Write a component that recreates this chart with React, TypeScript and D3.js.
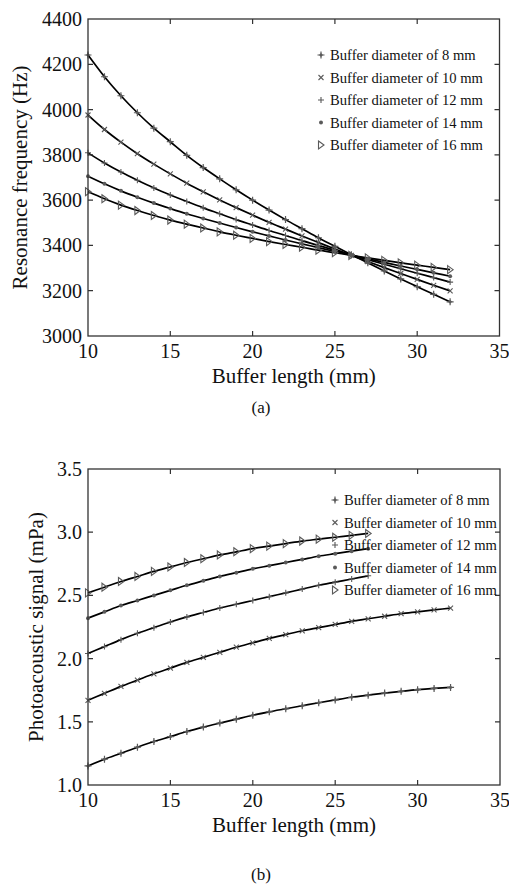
import React from 'react'
import * as d3 from 'd3'

// buffer length (mm), one point per mm
const lengthLong = [10, 11, 12, 13, 14, 15, 16, 17, 18, 19, 20, 21, 22, 23, 24, 25, 26, 27, 28, 29, 30, 31, 32]
const lengthShort = [10, 11, 12, 13, 14, 15, 16, 17, 18, 19, 20, 21, 22, 23, 24, 25, 26, 27]

const legendLabels = [
  'Buffer diameter of 8 mm',
  'Buffer diameter of 10 mm',
  'Buffer diameter of 12 mm',
  'Buffer diameter of 14 mm',
  'Buffer diameter of 16 mm',
]
const markerKinds = ['star', 'cross', 'plus', 'dot', 'tri']

// (a) resonance frequency (Hz)
const freq8 = [4241, 4145, 4061, 3986, 3918, 3858, 3798, 3744, 3694, 3646, 3600, 3556, 3514, 3474, 3434, 3396, 3359, 3323, 3287, 3252, 3218, 3184, 3151]
const freq10 = [3976, 3912, 3856, 3805, 3759, 3716, 3675, 3637, 3601, 3567, 3534, 3502, 3472, 3442, 3413, 3384, 3356, 3329, 3302, 3276, 3250, 3224, 3199]
const freq12 = [3809, 3764, 3724, 3688, 3654, 3623, 3594, 3566, 3540, 3514, 3490, 3466, 3444, 3421, 3400, 3378, 3357, 3337, 3317, 3297, 3277, 3258, 3238]
const freq14 = [3706, 3672, 3641, 3613, 3587, 3563, 3540, 3519, 3499, 3479, 3460, 3442, 3424, 3407, 3390, 3373, 3357, 3341, 3325, 3309, 3294, 3279, 3264]
const freq16 = [3637, 3606, 3578, 3554, 3532, 3512, 3494, 3477, 3460, 3445, 3431, 3417, 3404, 3392, 3379, 3368, 3356, 3345, 3334, 3323, 3313, 3303, 3293]

// (b) photoacoustic signal (mPa)
const signal8 = [1.151, 1.204, 1.251, 1.299, 1.344, 1.383, 1.423, 1.458, 1.49, 1.521, 1.552, 1.579, 1.603, 1.627, 1.651, 1.673, 1.694, 1.711, 1.727, 1.741, 1.754, 1.764, 1.772]
const signal10 = [1.67, 1.725, 1.78, 1.83, 1.88, 1.925, 1.97, 2.01, 2.05, 2.09, 2.125, 2.16, 2.19, 2.22, 2.245, 2.27, 2.295, 2.315, 2.335, 2.355, 2.37, 2.385, 2.4]
const signal12 = [2.04, 2.095, 2.15, 2.2, 2.245, 2.29, 2.33, 2.365, 2.4, 2.43, 2.46, 2.49, 2.52, 2.55, 2.58, 2.605, 2.63, 2.655]
const signal14 = [2.32, 2.37, 2.42, 2.46, 2.5, 2.54, 2.58, 2.615, 2.65, 2.68, 2.71, 2.735, 2.76, 2.785, 2.81, 2.83, 2.85, 2.87]
const signal16 = [2.52, 2.565, 2.61, 2.65, 2.69, 2.725, 2.76, 2.79, 2.82, 2.845, 2.87, 2.89, 2.91, 2.93, 2.945, 2.96, 2.975, 2.99]

const xTicks = [10, 15, 20, 25, 30, 35]
const freqTicks = [3000, 3200, 3400, 3600, 3800, 4000, 4200, 4400]
const signalTicks = [1.0, 1.5, 2.0, 2.5, 3.0, 3.5]

const FONT = '"Liberation Serif", "DejaVu Serif", serif'
const MARK = '#5a5a5a'

type Series = { xs: number[]; ys: number[]; kind: string }

const Marker = ({ x, y, kind }: { x: number; y: number; kind: string }) => {
  if (kind === 'star') {
    return (
      <g>
        <path d={`M${x - 3.5},${y}H${x + 3.5}M${x},${y - 3.5}V${y + 3.5}`} stroke={MARK} strokeWidth={1.2} />
        <path d={`M${x},${y - 2}L${x + 2},${y}L${x},${y + 2}L${x - 2},${y}Z`} fill={MARK} />
      </g>
    )
  }
  if (kind === 'cross') {
    return <path d={`M${x - 2.5},${y - 2.5}L${x + 2.5},${y + 2.5}M${x - 2.5},${y + 2.5}L${x + 2.5},${y - 2.5}`} stroke={MARK} strokeWidth={1.1} />
  }
  if (kind === 'plus') {
    return <path d={`M${x - 3},${y}H${x + 3}M${x},${y - 3}V${y + 3}`} stroke={MARK} strokeWidth={1.1} />
  }
  if (kind === 'dot') {
    return <circle cx={x} cy={y} r={2} fill={MARK} />
  }
  return <path d={`M${x - 2.5},${y - 4}L${x + 3},${y}L${x - 2.5},${y + 4}Z`} fill="none" stroke={MARK} strokeWidth={1.1} />
}

const Panel = ({
  top, bottom, right, yDomain, yTicks, yFormat, yTitle, yTitleX, series, legendX, legendY, tag, tagY,
}: {
  top: number; bottom: number; right: number; yDomain: [number, number]; yTicks: number[]
  yFormat: (v: number) => string; yTitle: string; yTitleX: number; series: Series[]
  legendX: number; legendY: number; tag: string; tagY: number
}) => {
  const left = 88
  const x = d3.scaleLinear().domain([10, 35]).range([left, right])
  const y = d3.scaleLinear().domain(yDomain).range([bottom, top])
  const line = d3.line<[number, number]>().x(d => x(d[0])).y(d => y(d[1])).curve(d3.curveMonotoneX)
  const tl = 5
  const txt = { fontFamily: FONT, fill: '#111' }
  return (
    <g>
      {series.map((s, i) => (
        <path key={'l' + i} d={line(s.xs.map((v, j) => [v, s.ys[j]]) as [number, number][]) || ''} fill="none" stroke="#000" strokeWidth={1.7} />
      ))}
      {series.map((s, i) => (
        <g key={'m' + i}>
          {s.xs.map((v, j) => <Marker key={j} x={x(v)} y={y(s.ys[j])} kind={s.kind} />)}
        </g>
      ))}
      <rect x={left} y={top} width={right - left} height={bottom - top} fill="none" stroke="#333" strokeWidth={1.3} />
      {xTicks.slice(1, -1).map(t => (
        <path key={'xt' + t} d={`M${x(t)},${bottom}v${-tl}M${x(t)},${top}v${tl}`} stroke="#333" strokeWidth={1.2} />
      ))}
      {yTicks.slice(1, -1).map(t => (
        <path key={'yt' + t} d={`M${left},${y(t)}h${tl}M${right},${y(t)}h${-tl}`} stroke="#333" strokeWidth={1.2} />
      ))}
      {xTicks.map(t => (
        <text key={'xl' + t} x={x(t)} y={bottom + 22} textAnchor="middle" fontSize={20} style={txt}>{t}</text>
      ))}
      {yTicks.map(t => (
        <text key={'yl' + t} x={82} y={y(t) + 7} textAnchor="end" fontSize={20} style={txt}>{yFormat(t)}</text>
      ))}
      <text x={(left + right) / 2} y={bottom + 47} textAnchor="middle" fontSize={21} style={txt}>Buffer length (mm)</text>
      <text transform={`translate(${yTitleX},${(top + bottom) / 2}) rotate(-90)`} textAnchor="middle" dominantBaseline="central" fontSize={21} style={txt}>{yTitle}</text>
      {legendLabels.map((lab, i) => (
        <g key={'lg' + i}>
          <Marker x={legendX} y={legendY + i * 22.5} kind={markerKinds[i]} />
          <text x={legendX + 9} y={legendY + i * 22.5 + 5} fontSize={14.6} style={txt}>{lab}</text>
        </g>
      ))}
      <text x={261} y={tagY} textAnchor="middle" fontSize={17} style={txt}>{tag}</text>
    </g>
  )
}

const App = () => {
  const freqSeries: Series[] = [
    { xs: lengthLong, ys: freq8, kind: 'star' },
    { xs: lengthLong, ys: freq10, kind: 'cross' },
    { xs: lengthLong, ys: freq12, kind: 'plus' },
    { xs: lengthLong, ys: freq14, kind: 'dot' },
    { xs: lengthLong, ys: freq16, kind: 'tri' },
  ]
  const signalSeries: Series[] = [
    { xs: lengthLong, ys: signal8, kind: 'star' },
    { xs: lengthLong, ys: signal10, kind: 'cross' },
    { xs: lengthShort, ys: signal12, kind: 'plus' },
    { xs: lengthShort, ys: signal14, kind: 'dot' },
    { xs: lengthShort, ys: signal16, kind: 'tri' },
  ]
  return (
    <svg width={509} height={888} style={{ position: 'absolute', left: 0, top: 0, background: '#fff', fontFamily: FONT }}>
      <rect width={509} height={888} fill="#fff" />
      <Panel
        top={19} bottom={336} right={499.5} yDomain={[3000, 4400]} yTicks={freqTicks}
        yFormat={v => String(v)} yTitle="Resonance frequency (Hz)" yTitleX={20}
        series={freqSeries} legendX={321} legendY={55} tag="(a)" tagY={413}
      />
      <Panel
        top={469} bottom={785} right={500} yDomain={[1, 3.5]} yTicks={signalTicks}
        yFormat={v => v.toFixed(1)} yTitle="Photoacoustic signal (mPa)" yTitleX={36}
        series={signalSeries} legendX={335} legendY={500} tag="(b)" tagY={880}
      />
    </svg>
  )
}

export default App
